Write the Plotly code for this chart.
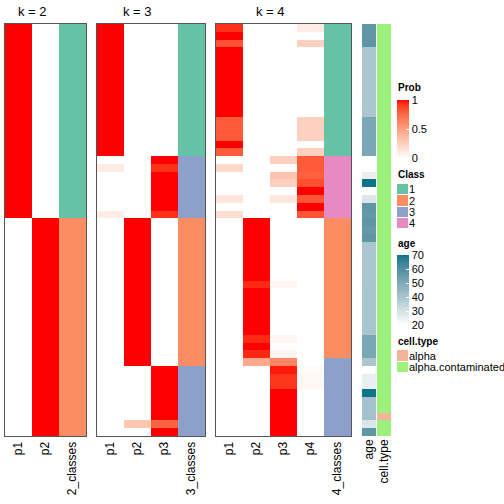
import plotly.graph_objects as go

W = H = 504

# ---------------- data (53 samples, top to bottom) ----------------
k2_p1 = [1]*25 + [0]*28
k2_p2 = [0]*25 + [1]*28
k2_class = [1]*25 + [2]*28

k3_p1 = ([1]*17 +
         [0, 0.1, 0, 0, 0, 0, 0, 0.1] +
         [0]*28)
k3_p2 = ([0]*25 +
         [1]*19 +
         [0, 0, 0, 0, 0, 0, 0, 0.3, 0])
k3_p3 = ([0]*17 +
         [1, 0.93, 1, 1, 1, 1, 1, 0.93] +
         [0]*19 +
         [1, 1, 1, 1, 1, 1, 1, 0.77, 1])
k3_class = [1]*17 + [3]*8 + [2]*19 + [3]*9

k4_p1 = ([0.93, 1, 0.83, 1, 1, 1, 1, 1, 1, 1, 1, 1, 0.8, 0.8, 0.8, 1, 0.8] +
         [0, 0.21, 0, 0, 0, 0.14, 0, 0.18] +
         [0]*28)
k4_p2 = ([0]*25 +
         [1, 1, 1, 1, 1, 1, 1, 1, 0.95, 1, 1, 1, 1, 1, 1, 0.95, 1, 0.95] +
         [0.45] +
         [0]*9)
k4_p3 = ([0]*17 +
         [0.25, 0, 0.32, 0.25, 0, 0.13, 0, 0] +
         [0, 0, 0, 0, 0, 0, 0, 0, 0.05, 0, 0, 0, 0, 0, 0, 0.05, 0, 0.05] +
         [0.62, 0.97, 0.92, 0.92, 1, 1, 1, 1, 1, 1])
k4_p4 = ([0.1, 0, 0.25, 0, 0, 0, 0, 0, 0, 0, 0, 0, 0.25, 0.25, 0.25, 0, 0.25] +
         [0.8, 0.8, 0.78, 0.84, 1, 0.82, 1, 0.82] +
         [0]*19 +
         [0.03, 0.04, 0.04, 0, 0, 0, 0, 0, 0])
k4_class = [1]*17 + [4]*8 + [2]*18 + [3]*10

age = [57, 57, 57, 39.5, 39.5, 39.5, 39.5, 39.5, 39.5, 39.5, 39.5, 40,
       51, 51, 51, 51, 51,
       20, 20, 25, 70, 20, 28.5,
       57, 56, 57, 56, 57,
       39.5, 39.5, 39.5, 39.5, 39.5, 40, 40, 40, 40, 40, 40, 40,
       51, 51, 51, 39.5,
       20, 25, 25, 70, 41, 41, 41, 28.5, 57]
cell_type = ["alpha.contaminated"]*50 + ["alpha"] + ["alpha.contaminated"]*2

class_labels = ["1", "2", "3", "4"]
cell_types = ["alpha", "alpha.contaminated"]

# ---------------- styles ----------------
CLASS_COLORS = ["#66C2A5", "#FC8D62", "#8DA0CB", "#E78AC3"]
CT_COLORS = ["#F4B49C", "#9CF27A"]
AGE_HIGH = "#0E7489"
FONT = "Liberation Sans, Arial, Helvetica, sans-serif"


def hex2rgb(h):
    h = h.lstrip("#")
    return [int(h[i:i+2], 16) / 255 for i in (0, 2, 4)]


def rgb2lab(rgb):
    def lin(c):
        return c / 12.92 if c <= 0.04045 else ((c + 0.055) / 1.055) ** 2.4
    r, g, b = [lin(c) for c in rgb]
    X = (0.4124 * r + 0.3576 * g + 0.1805 * b) / 0.95047
    Y = (0.2126 * r + 0.7152 * g + 0.0722 * b)
    Z = (0.0193 * r + 0.1192 * g + 0.9505 * b) / 1.08883

    def f(t):
        return t ** (1 / 3) if t > 0.008856 else 7.787 * t + 16 / 116
    fx, fy, fz = f(X), f(Y), f(Z)
    return [116 * fy - 16, 500 * (fx - fy), 200 * (fy - fz)]


def lab2rgb(lab):
    L, a, b = lab
    fy = (L + 16) / 116
    fx = fy + a / 500
    fz = fy - b / 200

    def finv(t):
        return t ** 3 if t ** 3 > 0.008856 else (t - 16 / 116) / 7.787
    X, Y, Z = 0.95047 * finv(fx), finv(fy), 1.08883 * finv(fz)
    r = 3.2406 * X - 1.5372 * Y - 0.4986 * Z
    g = -0.9689 * X + 1.8758 * Y + 0.0415 * Z
    bb = 0.0557 * X - 0.2040 * Y + 1.0570 * Z

    def gam(c):
        c = max(0.0, min(1.0, c))
        return 12.92 * c if c <= 0.0031308 else 1.055 * c ** (1 / 2.4) - 0.055
    return "rgb(%d,%d,%d)" % tuple(round(gam(c) * 255) for c in (r, g, bb))


def lab_scale(c0, c1, n=21):
    l0, l1 = rgb2lab(hex2rgb(c0)), rgb2lab(hex2rgb(c1))
    out = []
    for i in range(n):
        t = i / (n - 1)
        out.append([t, lab2rgb([l0[j] + (l1[j] - l0[j]) * t for j in range(3)])])
    return out


PROB_SCALE = lab_scale("#FFFFFF", "#FF0000")
AGE_SCALE = lab_scale("#FFFFFF", AGE_HIGH)


def discrete(colors):
    n = len(colors)
    cs = []
    for i, c in enumerate(colors):
        cs.append([i / n, c])
        cs.append([(i + 1) / n, c])
    return cs


CLASS_SCALE = discrete(CLASS_COLORS)
CT_SCALE = discrete(CT_COLORS)


def px_x(a, b):
    return [a / W, b / W]


def px_y(top, bottom):
    return [1 - bottom / H, 1 - top / H]


Y_DOM = px_y(24, 436)
rows = list(range(len(age)))

fig = go.Figure()

panels = [
    ("k = 2", [k2_p1, k2_p2], k2_class, "2_classes", px_x(5, 86)),
    ("k = 3", [k3_p1, k3_p2, k3_p3], k3_class, "3_classes", px_x(97, 205)),
    ("k = 4", [k4_p1, k4_p2, k4_p3, k4_p4], k4_class, "4_classes", px_x(216, 351)),
]

layout = dict(
    width=W, height=H, autosize=False, margin=dict(l=0, r=0, t=0, b=0, pad=0),
    paper_bgcolor="white", plot_bgcolor="white",
    font=dict(family=FONT, color="black"),
    showlegend=False,
)
annotations = []

for i, (title, probs, cls, cls_name, xdom) in enumerate(panels):
    n = i + 1
    xa = "x" if n == 1 else "x%d" % n
    ya = "y" if n == 1 else "y%d" % n
    k = len(probs)
    z = [list(r) for r in zip(*probs)]
    fig.add_trace(go.Heatmap(
        z=z, x=list(range(k)), y=rows, xaxis=xa, yaxis=ya,
        colorscale=PROB_SCALE, zmin=0, zmax=1,
        showscale=(n == 1), hoverinfo="skip",
        colorbar=dict(
            x=397 / W, xanchor="left", y=1 - 100 / H, yanchor="top",
            len=58, lenmode="pixels", thickness=12, thicknessmode="pixels",
            xpad=0, ypad=0, outlinewidth=0,
            tickvals=[0, 0.5, 1], ticktext=["0", "0.5", "1"],
            ticks="inside", ticklen=3, tickcolor="white",
            tickfont=dict(size=11, family=FONT, color="black"),
        ),
    ))
    fig.add_trace(go.Heatmap(
        z=[[c] for c in cls], x=[k], y=rows, xaxis=xa, yaxis=ya,
        colorscale=CLASS_SCALE, zmin=0.5, zmax=4.5,
        showscale=False, hoverinfo="skip",
    ))
    labels = ["p%d" % (j + 1) for j in range(k)] + [cls_name]
    layout["xaxis" if n == 1 else "xaxis%d" % n] = dict(
        domain=xdom, anchor=ya, range=[-0.5, k + 0.5],
        tickvals=list(range(k + 1)), ticktext=labels, tickangle=-90,
        tickfont=dict(size=12, family=FONT, color="black"),
        ticks="", showgrid=False, zeroline=False, automargin=False,
        showline=True, mirror=True, linecolor="#555555", linewidth=1,
        fixedrange=True,
    )
    layout["yaxis" if n == 1 else "yaxis%d" % n] = dict(
        domain=Y_DOM, anchor=xa, range=[len(rows) - 0.5, -0.5],
        showticklabels=False, ticks="", showgrid=False, zeroline=False,
        showline=True, mirror=True, linecolor="#555555", linewidth=1,
        fixedrange=True, automargin=False,
    )
    annotations.append(dict(
        x=(k - 1) / 2, xref=xa, y=1 - 11 / H, yref="paper",
        text=title, showarrow=False, xanchor="center", yanchor="middle",
        font=dict(size=13, family=FONT, color="black"),
    ))

# age column
fig.add_trace(go.Heatmap(
    z=[[a] for a in age], x=[0], y=rows, xaxis="x4", yaxis="y4",
    colorscale=AGE_SCALE, zmin=20, zmax=70, hoverinfo="skip",
    showscale=True,
    colorbar=dict(
        x=397 / W, xanchor="left", y=1 - 255 / H, yanchor="top",
        len=70, lenmode="pixels", thickness=12, thicknessmode="pixels",
        xpad=0, ypad=0, outlinewidth=0,
        tickvals=[20, 30, 40, 50, 60, 70],
        ticks="inside", ticklen=3, tickcolor="white",
        tickfont=dict(size=11, family=FONT, color="black"),
    ),
))
# cell type column
ct_idx = [cell_types.index(c) + 1 for c in cell_type]
fig.add_trace(go.Heatmap(
    z=[[c] for c in ct_idx], x=[0], y=rows, xaxis="x5", yaxis="y5",
    colorscale=CT_SCALE, zmin=0.5, zmax=2.5, showscale=False, hoverinfo="skip",
))
for n, (dom, lab) in zip((4, 5), ((px_x(362, 376), "age"), (px_x(377, 391), "cell.type"))):
    layout["xaxis%d" % n] = dict(
        domain=dom, anchor="y%d" % n, range=[-0.5, 0.5],
        tickvals=[0], ticktext=[lab], tickangle=-90,
        tickfont=dict(size=12, family=FONT, color="black"),
        ticks="", showgrid=False, zeroline=False, showline=False, fixedrange=True,
        automargin=False,
    )
    layout["yaxis%d" % n] = dict(
        domain=Y_DOM, anchor="x%d" % n, range=[len(rows) - 0.5, -0.5],
        showticklabels=False, ticks="", showgrid=False, zeroline=False,
        showline=False, fixedrange=True, automargin=False,
    )

# Class legend (discrete swatches)
fig.add_trace(go.Heatmap(
    z=[[i + 1] for i in range(len(class_labels))], x=[0],
    y=list(range(len(class_labels))), xaxis="x6", yaxis="y6",
    colorscale=CLASS_SCALE, zmin=0.5, zmax=4.5, showscale=False,
    ygap=1, hoverinfo="skip",
))
layout["xaxis6"] = dict(domain=px_x(397, 408), anchor="y6", range=[-0.5, 0.5],
                        visible=False, fixedrange=True, automargin=False)
layout["yaxis6"] = dict(domain=px_y(184, 229), anchor="x6", side="right",
                        range=[len(class_labels) - 0.5, -0.5],
                        tickvals=list(range(len(class_labels))), ticktext=class_labels,
                        tickfont=dict(size=11, family=FONT, color="black"),
                        ticks="", showgrid=False, zeroline=False, showline=False,
                        fixedrange=True, automargin=False)

# cell.type legend
fig.add_trace(go.Heatmap(
    z=[[i + 1] for i in range(len(cell_types))], x=[0],
    y=list(range(len(cell_types))), xaxis="x7", yaxis="y7",
    colorscale=CT_SCALE, zmin=0.5, zmax=2.5, showscale=False,
    ygap=1, hoverinfo="skip",
))
layout["xaxis7"] = dict(domain=px_x(397, 408), anchor="y7", range=[-0.5, 0.5],
                        visible=False, fixedrange=True, automargin=False)
layout["yaxis7"] = dict(domain=px_y(350, 373), anchor="x7", side="right",
                        range=[len(cell_types) - 0.5, -0.5],
                        tickvals=list(range(len(cell_types))), ticktext=cell_types,
                        tickfont=dict(size=11, family=FONT, color="black"),
                        ticks="", showgrid=False, zeroline=False, showline=False,
                        fixedrange=True, automargin=False)

for txt, ypx in (("Prob", 87), ("Class", 174), ("age", 243), ("cell.type", 341)):
    annotations.append(dict(
        x=396 / W, xref="paper", y=1 - ypx / H, yref="paper", text="<b>%s</b>" % txt,
        showarrow=False, xanchor="left", yanchor="middle",
        font=dict(size=10, family=FONT, color="black"),
    ))

layout["annotations"] = annotations
fig.update_layout(**layout)
fig.write_html(
    "out.html",
    config={"displayModeBar": False},
    post_script="document.body.style.margin='0';document.body.style.padding='0';",
)
